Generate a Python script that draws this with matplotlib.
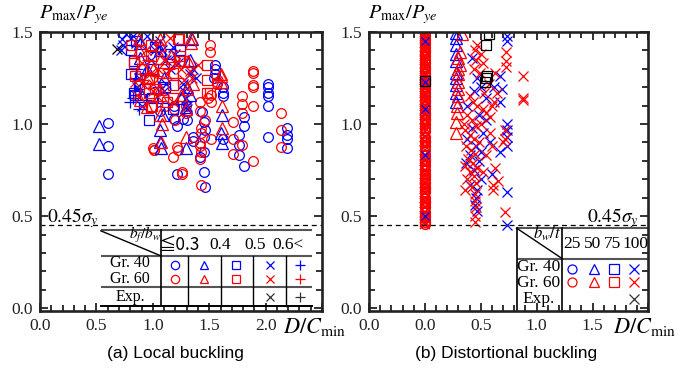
import matplotlib
matplotlib.use('Agg')
import matplotlib.pyplot as plt
from matplotlib.ticker import MultipleLocator

plt.rcParams['font.family'] = ['Liberation Serif', 'DejaVu Serif']
plt.rcParams['mathtext.fontset'] = 'stix'

BLUE = '#0000ff'
RED = '#ff0000'

# ---------------- (a) Local buckling data ----------------
a_g40_o_x = [0.60, 0.60, 0.60, 2.02, 2.02, 2.02, 2.02, 2.02, 2.02, 2.19, 2.19, 2.19, 2.19,
             1.81, 1.81, 1.76, 1.76, 1.76, 1.81, 1.44, 1.45, 1.46, 1.45, 1.45, 1.46,
             1.21, 1.19, 1.21, 1.27, 1.36, 1.36, 1.55, 1.55, 1.55, 1.54, 1.62, 1.62, 1.62,
             1.62, 1.30, 1.06, 1.19, 1.42, 1.45]
a_g40_o_y = [1.007, 0.88, 0.73, 1.22, 1.20, 1.17, 1.15, 1.10, 0.93, 0.98, 0.94, 0.92, 0.87,
             1.04, 0.99, 0.94, 0.885, 0.83, 0.77, 1.065, 1.01, 0.97, 0.93, 0.85, 0.66,
             0.73, 1.03, 0.99, 1.03, 0.93, 0.91, 1.32, 1.30, 1.27, 1.25, 1.20, 1.17, 1.15,
             0.92, 1.02, 1.07, 1.10, 0.82, 0.74]

a_g60_o_x = [1.51, 1.51, 1.89, 1.89, 1.89, 1.89, 1.89, 2.14, 2.14, 2.14, 1.79, 1.79, 1.79,
             1.71, 1.71, 1.71, 1.89, 1.79, 1.42, 1.42, 1.43, 1.43, 1.42, 1.42, 1.42, 1.52,
             1.52, 1.29, 1.29, 1.21, 1.22, 1.18, 1.00, 1.01, 1.26, 1.26, 1.43, 1.20, 1.19,
             1.57, 1.57, 1.52, 1.49, 1.46, 1.11, 1.01, 1.43]
a_g60_o_y = [1.43, 1.39, 1.29, 1.28, 1.21, 1.20, 1.10, 1.06, 0.97, 0.876, 1.155, 1.11, 1.06,
             1.01, 0.92, 0.84, 0.80, 0.886, 1.12, 1.07, 0.98, 0.95, 0.895, 0.88, 0.81, 1.12,
             0.92, 1.10, 1.06, 0.875, 0.86, 0.82, 0.87, 0.86, 0.74, 0.73, 0.67, 1.02, 1.08,
             1.23, 1.22, 1.16, 1.14, 1.02, 1.10, 0.86, 0.85]

a_g40_t_x = [0.52, 0.52, 1.06, 1.06, 1.07, 1.29, 1.61, 1.61, 1.60, 0.89, 0.89, 0.95, 1.06,
             1.10, 1.09, 0.90, 1.29, 1.30, 1.25, 1.35, 1.33, 1.33]
a_g40_t_y = [0.99, 0.89, 0.97, 0.90, 0.87, 0.87, 1.05, 0.895, 0.95, 1.44, 1.36, 1.30, 1.40,
             1.25, 1.05, 1.15, 1.09, 1.20, 1.14, 1.46, 1.35, 1.16]

a_g60_t_x = [0.88, 0.88, 0.89, 1.06, 1.06, 1.07, 1.06, 1.06, 1.06, 1.34, 1.34, 1.36, 1.60,
             1.60, 1.60, 1.61, 1.61, 1.07, 1.29, 1.29, 1.30, 1.25, 0.96, 1.00, 1.16, 0.95,
             1.31, 1.08]
a_g60_t_y = [1.46, 1.40, 1.13, 1.46, 1.43, 1.36, 1.19, 1.16, 1.05, 1.47, 1.44, 1.22, 1.27,
             1.26, 1.23, 1.10, 0.98, 0.90, 1.08, 0.93, 1.19, 1.16, 1.25, 1.30, 1.37, 1.09,
             1.34, 1.00]

a_g40_s_x = [0.81, 0.83, 0.84, 0.97, 0.99, 1.18, 1.02, 0.81, 0.85, 0.88, 0.93, 1.09, 1.15,
             0.83, 1.00, 1.11, 1.24]
a_g40_s_y = [1.27, 1.17, 1.16, 1.02, 1.14, 1.08, 1.42, 1.40, 1.45, 1.22, 1.19, 1.14, 1.38,
             1.34, 1.30, 1.20, 1.40]

a_g60_s_x = [0.83, 0.81, 0.99, 1.18, 1.18, 1.22, 1.09, 0.97, 0.98, 0.98, 0.97, 0.98, 1.18,
             1.23, 1.24, 1.23, 1.28, 1.48, 1.48, 1.48, 1.51, 0.84, 1.02, 1.13, 0.90]
a_g60_s_y = [1.33, 1.43, 1.10, 1.21, 1.14, 1.46, 1.28, 1.17, 1.43, 1.37, 1.25, 1.09, 1.28,
             1.46, 1.37, 1.34, 1.34, 1.32, 1.24, 1.17, 1.17, 1.26, 1.19, 1.12, 1.30]

a_g40_x_x = [0.72, 0.74, 0.76, 0.73, 0.82, 0.85, 1.06, 1.08, 1.12, 1.15, 1.18, 1.20, 1.22,
             1.27, 1.28, 1.29, 1.30, 1.30, 0.95, 1.00, 0.98, 0.86, 0.88, 1.10, 1.12, 1.36,
             1.38, 1.33, 0.90, 1.02]
a_g40_x_y = [1.40, 1.43, 1.49, 1.46, 1.48, 1.44, 1.45, 1.40, 1.35, 1.30, 1.42, 1.38, 1.33,
             1.22, 1.18, 1.14, 1.10, 1.08, 1.48, 1.44, 1.35, 1.20, 1.25, 1.18, 1.22, 1.30,
             1.25, 1.27, 1.10, 1.40]

a_g60_x_x = [0.90, 0.98, 1.00, 1.00, 0.84, 0.92, 1.13, 1.20, 1.25, 1.33, 1.35, 1.10, 1.05,
             0.86, 1.18, 1.28, 0.94, 1.40, 1.15, 1.04]
a_g60_x_y = [1.33, 1.28, 1.22, 1.18, 1.23, 1.21, 1.27, 1.33, 1.30, 1.29, 1.25, 1.35, 1.30,
             1.16, 1.12, 1.24, 1.40, 1.32, 1.47, 1.15]

a_g40_p_x = [0.84, 0.84, 0.84, 0.94, 0.82, 0.86, 0.80, 0.93, 1.05, 0.88]
a_g40_p_y = [1.25, 1.18, 1.16, 1.13, 1.14, 1.30, 1.12, 1.28, 1.20, 1.08]

a_g60_p_x = [0.90, 0.96, 1.04, 0.85, 1.14, 1.22]
a_g60_p_y = [1.24, 1.35, 1.26, 1.37, 1.30, 1.25]

a_exp_x_x = [0.68]
a_exp_x_y = [1.41]

# ---------------- (b) Distortional buckling data ----------------
b_g60_o_y = [0.46, 0.47, 0.49, 0.50, 0.52, 0.55, 0.57, 0.58, 0.60, 0.63, 0.65, 0.66, 0.68,
             0.70, 0.72, 0.73, 0.75, 0.78, 0.80, 0.81, 0.83, 0.86, 0.88, 0.90, 0.91, 0.93,
             0.96, 0.98, 1.00, 1.02, 1.03, 1.05, 1.06, 1.08, 1.10, 1.12, 1.13, 1.15, 1.17,
             1.19, 1.20, 1.22, 1.24, 1.26, 1.28, 1.30, 1.31, 1.33, 1.35, 1.37, 1.39, 1.40,
             1.42, 1.44, 1.46, 1.48, 1.50]
b_g60_o_x = [0.0] * len(b_g60_o_y)
b_g40_o_y = [0.50, 0.55, 0.78, 0.83, 0.97, 1.05, 1.08, 1.15, 1.18, 1.23, 1.30, 1.40, 1.45, 1.48]
b_g40_o_x = [0.0] * len(b_g40_o_y)

b_g40_t_x = [0.28, 0.28, 0.28, 0.28, 0.28, 0.28, 0.28, 0.28, 0.28, 0.28]
b_g40_t_y = [1.495, 1.47, 1.43, 1.38, 1.34, 1.28, 1.25, 1.21, 1.17, 1.12]
b_g60_t_x = [0.31, 0.30, 0.31, 0.30, 0.30, 0.30, 0.30, 0.30, 0.29, 0.29, 0.28, 0.28, 0.33]
b_g60_t_y = [1.39, 1.36, 1.32, 1.30, 1.27, 1.23, 1.19, 1.15, 1.10, 1.06, 1.01, 0.95, 1.49]

b_g40_x_x = [0.735, 0.735, 0.675, 0.69, 0.675, 0.735, 0.735, 0.735, 0.735, 0.675, 0.60, 0.735,
             0.735, 0.42, 0.47, 0.50, 0.44, 0.55, 0.38, 0.48, 0.42, 0.52, 0.38, 0.46, 0.50,
             0.40, 0.48, 0.37, 0.44, 0.50, 0.47, 0.46, 0.45, 0.47, 0.62, 0.58, 0.55, 0.40]
b_g40_x_y = [1.48, 1.45, 1.26, 1.19, 1.12, 1.00, 0.97, 0.93, 0.88, 0.85, 0.73, 0.63, 0.45,
             1.36, 1.25, 1.20, 1.18, 1.14, 1.10, 1.05, 0.98, 0.95, 0.92, 0.88, 0.85, 0.83,
             0.80, 0.79, 0.75, 0.70, 0.64, 0.60, 0.56, 0.53, 1.20, 0.90, 1.02, 0.67]

b_g60_x_x = [0.47, 0.45, 0.50, 0.46, 0.52, 0.44, 0.49, 0.63, 0.73, 0.73, 0.73, 0.88, 0.88,
             0.88, 0.645, 0.62, 0.40, 0.43, 0.47, 0.52, 0.55, 0.58, 0.38, 0.42, 0.46, 0.50,
             0.36, 0.40, 0.44, 0.48, 0.37, 0.41, 0.45, 0.39, 0.43, 0.36, 0.47, 0.40, 0.44,
             0.38, 0.46, 0.42, 0.36, 0.45, 0.45, 0.46, 0.45, 0.45, 0.61, 0.65, 0.61, 0.72,
             0.72, 0.72, 0.70, 0.58, 0.60, 0.63, 0.55, 0.52, 0.35, 0.53, 0.57, 0.60]
b_g60_x_y = [1.43, 1.40, 1.38, 1.35, 1.33, 1.30, 1.28, 1.28, 1.39, 1.34, 1.31, 1.26, 1.14,
             1.13, 1.17, 1.12, 1.15, 1.12, 1.10, 1.08, 1.06, 1.04, 1.05, 1.02, 0.99, 1.00,
             0.97, 0.94, 0.92, 0.90, 0.88, 0.86, 0.84, 0.81, 0.79, 0.77, 0.76, 0.74, 0.72,
             0.70, 0.68, 0.66, 0.64, 0.62, 0.58, 0.55, 0.50, 0.47, 0.67, 0.69, 0.64, 0.52,
             0.92, 0.97, 0.90, 0.95, 0.88, 0.76, 0.83, 0.74, 1.00, 1.17, 1.22, 1.10]

b_exp_s_x = [0.55, 0.57, 0.55, 0.56, 0.54, 0.0]
b_exp_s_y = [1.43, 1.49, 1.25, 1.26, 1.23, 1.235]


def pts(ax, x, y, marker, color, ms=7.0, mew=0.9):
    ax.plot(x, y, ls='none', marker=marker, mfc='none', mec=color, ms=ms, mew=mew)


fig = plt.figure(figsize=(6.84, 3.72), dpi=100)
ax1 = fig.add_axes([0.0585, 0.164, 0.4123, 0.750])
ax2 = fig.add_axes([0.5395, 0.164, 0.4085, 0.750])

# scatter (a)
pts(ax1, a_g40_o_x, a_g40_o_y, 'o', BLUE)
pts(ax1, a_g60_o_x, a_g60_o_y, 'o', RED)
pts(ax1, a_g40_s_x, a_g40_s_y, 's', BLUE, ms=6.5)
pts(ax1, a_g40_x_x, a_g40_x_y, 'x', BLUE)
pts(ax1, a_g40_p_x, a_g40_p_y, '+', BLUE, ms=8)
pts(ax1, a_g40_t_x, a_g40_t_y, '^', BLUE, ms=8)
pts(ax1, a_g60_s_x, a_g60_s_y, 's', RED, ms=6.5)
pts(ax1, a_g60_x_x, a_g60_x_y, 'x', RED)
pts(ax1, a_g60_p_x, a_g60_p_y, '+', RED, ms=8)
pts(ax1, a_g60_t_x, a_g60_t_y, '^', RED, ms=8)
pts(ax1, a_exp_x_x, a_exp_x_y, 'x', 'black')

# scatter (b)
pts(ax2, b_g40_o_x, b_g40_o_y, 'o', BLUE, ms=7)
pts(ax2, b_g60_o_x, b_g60_o_y, 'o', RED, ms=7, mew=1.1)
pts(ax2, b_g60_o_x, b_g60_o_y, 'x', RED, ms=7, mew=1.1)
pts(ax2, b_g40_o_x[::3], b_g40_o_y[::3], 'x', BLUE, ms=6)
pts(ax2, b_g40_x_x, b_g40_x_y, 'x', BLUE, ms=7.5)
pts(ax2, b_g60_x_x, b_g60_x_y, 'x', RED, ms=7.5)
pts(ax2, b_g40_t_x, b_g40_t_y, '^', BLUE, ms=8)
pts(ax2, b_g60_t_x, b_g60_t_y, '^', RED, ms=8)
pts(ax2, b_exp_s_x, b_exp_s_y, 's', 'black', ms=6.5)

GRAY = '#555555'
lc = dict(color=GRAY, lw=1.5, clip_on=False, solid_capstyle='butt')

# ---- table (a)
a_cols = [1.073, 1.315, 1.60, 1.89, 2.18]
ax1.axhline(0.45, color='black', ls=(0, (4, 3)), lw=0.9)
ax1.plot([0.54, 2.41], [0.424, 0.424], **lc)
ax1.plot([0.54, 2.41], [0.284, 0.284], **lc)
ax1.plot([0.54, 2.41], [0.116, 0.116], **lc)
ax1.plot([0.54, 2.41], [0.014, 0.014], color='black', lw=1.4)
ax1.plot([a_cols[0], a_cols[0]], [0.424, 0.014], color='black', lw=1.2)
for c in a_cols[1:]:
    ax1.plot([c, c], [0.284, 0.014], color='black', lw=1.0)
ax1.plot([0.54, a_cols[0]], [0.42, 0.284], color='black', lw=1.0)
ax1.text(0.93, 0.395, r'$b_f/b_w$', ha='center', va='center', fontsize=11)
a_heads = ['≦0.3', '0.4', '0.5', '0.6<']
a_head_x = [1.23, 1.595, 1.905, 2.20]
for h, hx in zip(a_heads, a_head_x):
    ax1.text(hx, 0.345, h, ha='center', va='center', fontsize=12.5,
             family=['Noto Sans CJK JP', 'Liberation Serif'] if h.startswith('≦') else None)
for lab, ly in zip(['Gr. 40', 'Gr. 60', 'Exp.'], [0.243, 0.158, 0.062]):
    ax1.text(0.80, ly, lab, ha='center', va='center', fontsize=11.5)
a_mk = ['o', '^', 's', 'x', '+']
a_mk_x = [1.197, 1.454, 1.74, 2.04, 2.305]
for m, mx in zip(a_mk, a_mk_x):
    pts(ax1, [mx], [0.234], m, BLUE, ms=7 if m == '+' else 6)
    pts(ax1, [mx], [0.161], m, RED, ms=7 if m == '+' else 6)
pts(ax1, [a_mk_x[3]], [0.061], 'x', '#333333', ms=6)
pts(ax1, [a_mk_x[4]], [0.061], '+', '#333333', ms=7)
ax1.text(0.06, 0.49, r'$0.45\sigma_y$', ha='left', va='center', fontsize=14)

# ---- table (b)
ax2.axhline(0.45, color='black', ls=(0, (4, 3)), lw=0.9)
ax2.plot([0.82, 2.0], [0.435, 0.435], **lc)
ax2.plot([0.82, 2.0], [0.27, 0.27], **lc)
ax2.plot([0.82, 0.82], [0.435, -0.015], color='black', lw=1.2)
ax2.plot([1.227, 1.227], [0.435, -0.015], color='black', lw=1.2)
ax2.plot([0.82, 1.227], [0.435, 0.27], color='black', lw=1.0)
ax2.text(1.09, 0.405, r'$b_w/t$', ha='center', va='center', fontsize=12)
for h, hx in zip(['25', '50', '75', '100'], [1.32, 1.50, 1.68, 1.885]):
    ax2.text(hx, 0.35, h, ha='center', va='center', fontsize=12.5)
for lab, ly in zip(['Gr. 40', 'Gr. 60', 'Exp.'], [0.222, 0.137, 0.05]):
    ax2.text(1.02, ly, lab, ha='center', va='center', fontsize=12.5)
b_mk = ['o', '^', 's', 'x']
b_mk_x = [1.316, 1.51, 1.69, 1.875]
for m, mx in zip(b_mk, b_mk_x):
    pts(ax2, [mx], [0.215], m, BLUE, ms=6.5)
    pts(ax2, [mx], [0.14], m, RED, ms=6.5)
pts(ax2, [b_mk_x[3]], [0.05], 'x', '#333333', ms=6.5)
ax2.text(1.91, 0.49, r'$0.45\sigma_y$', ha='right', va='center', fontsize=14)

# ---- axes styling
for ax, xlo, xlabels in [(ax1, 0.0, ['0.0', '0.5', '1.0', '1.5', '2.0', '']),
                         (ax2, -0.5, ['0.0', '0.0', '0.5', '1.0', '1.5', ''])]:
    ax.set_xlim(xlo, xlo + 2.5)
    ax.set_ylim(-0.015, 1.5)
    ax.set_xticks([xlo + 0.5 * i for i in range(6)])
    ax.set_xticklabels(xlabels)
    ax.set_yticks([0.0, 0.5, 1.0, 1.5])
    ax.set_yticklabels(['0.0', '0.5', '1.0', '1.5'])
    ax.xaxis.set_minor_locator(MultipleLocator(0.1))
    ax.yaxis.set_minor_locator(MultipleLocator(0.1))
    ax.tick_params(which='both', direction='in', top=True, right=True,
                   labelsize=12.5, width=1.3, colors='#222222')
    ax.tick_params(which='major', length=6, pad=5)
    ax.tick_params(which='minor', length=4)
    for s in ax.spines.values():
        s.set_linewidth(1.9)
        s.set_color('#222222')

for x0 in [0.0585, 0.5395]:
    fig.text(x0 - 0.002, 0.962, r'$P_{\mathrm{max}}/P_{ye}$', ha='left', va='center', fontsize=14.5)
fig.text(0.414, 0.121, r'$D/C_{\mathrm{min}}$', ha='left', va='center', fontsize=16)
fig.text(0.896, 0.121, r'$D/C_{\mathrm{min}}$', ha='left', va='center', fontsize=16)

fig.text(0.2566, 0.049, '(a) Local buckling', ha='center', va='center',
         fontsize=12.5, family='Liberation Sans')
fig.text(0.7395, 0.049, '(b) Distortional buckling', ha='center', va='center',
         fontsize=12.5, family='Liberation Sans')

fig.savefig('out.png', dpi=100)
